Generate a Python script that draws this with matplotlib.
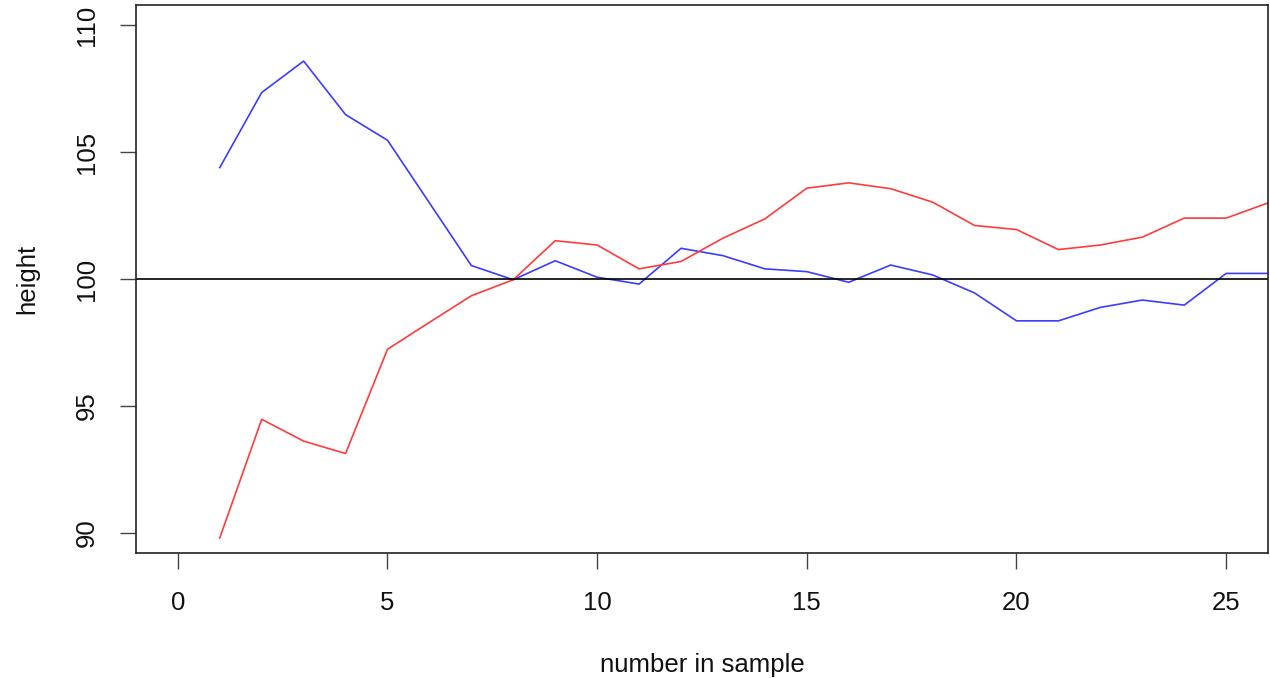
import matplotlib
matplotlib.use("Agg")
import matplotlib.pyplot as plt

plt.rcParams["font.family"] = ["Liberation Sans", "DejaVu Sans"]

# sample number
n = list(range(1, 27))
# running mean heights, two samples
blue_h = [104.39, 107.35, 108.59, 106.48, 105.47, 103.00, 100.53, 99.97, 100.72, 100.07,
          99.80, 101.21, 100.92, 100.40, 100.29, 99.87, 100.55, 100.16, 99.45, 98.35,
          98.35, 98.88, 99.17, 98.97, 100.22, 100.22]
red_h = [89.79, 94.47, 93.61, 93.12, 97.23, 98.29, 99.34, 99.97, 101.51, 101.34,
         100.40, 100.69, 101.61, 102.37, 103.58, 103.79, 103.56, 103.03, 102.11, 101.95,
         101.16, 101.34, 101.65, 102.40, 102.40, 103.00]
ref_h = 100
xticks = [0, 5, 10, 15, 20, 25]
yticks = [90, 95, 100, 105, 110]

fig = plt.figure(figsize=(12.7, 6.78), dpi=100)
ax = fig.add_axes([0.107, 0.1844, 0.8915, 0.8082])

ax.plot(n, blue_h, color="#3c3cff", lw=1.2)
ax.plot(n, red_h, color="#ff3c3c", lw=1.2)
ax.axhline(ref_h, color="black", lw=1.2)

ax.set_xlim(-1, 26)
ax.set_ylim(89.2, 110.8)
ax.set_xticks(xticks)
ax.set_yticks(yticks)
ax.set_yticklabels([str(v) for v in yticks], rotation=90, va="center")
ax.tick_params(length=11.5, width=1.0, color="#444444", labelsize=18.5, pad=16,
               labelcolor="#111111")
ax.tick_params(axis="y", pad=15)
for s in ax.spines.values():
    s.set_linewidth(1.2)
    s.set_color("#222222")

ax.set_xlabel("number in sample", fontsize=18.5, labelpad=27, color="#111111")
ax.set_ylabel("height", fontsize=18.5, labelpad=26, color="#111111")

fig.savefig("out.png", dpi=100)
